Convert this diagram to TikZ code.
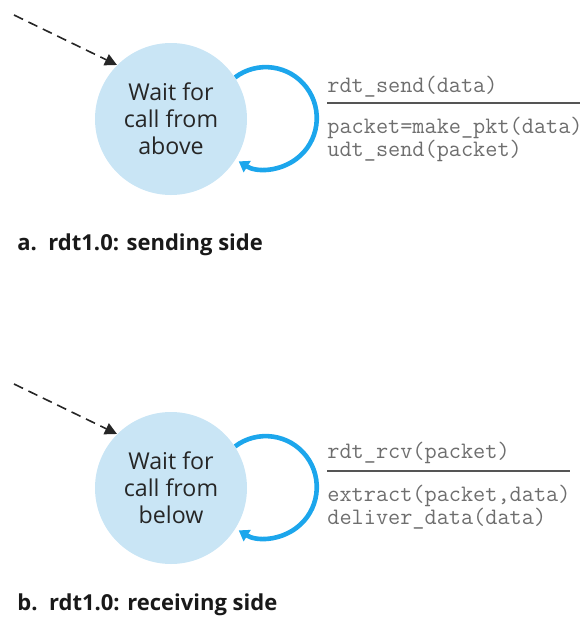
\documentclass[tikz,border=0pt]{standalone}
\usepackage{fontspec}
\usetikzlibrary{arrows.meta}
\newfontfamily\sansf{Open Sans}
\setmonofont{Latin Modern Mono}
\definecolor{statefill}{HTML}{C9E5F5}
\definecolor{loopblue}{HTML}{1CA6EC}
\definecolor{codegray}{HTML}{6E6E6E}
\definecolor{rulegray}{HTML}{555555}
\tikzset{
  state/.style={circle, fill=statefill, minimum size=76pt, inner sep=0pt, align=center,
    font=\sansf\fontsize{11.6}{13.5}\selectfont, text=black!85},
  initarrow/.style={draw=black!85, line width=0.8pt, dash pattern=on 5pt off 3pt,
    -{Triangle[length=6pt,width=6pt]}},
  selfloop/.style={draw=loopblue, line width=2.3pt, -{Triangle[length=5pt,width=6.5pt]}},
  code/.style={anchor=west, inner sep=0pt, text=codegray, font=\ttfamily\fontsize{11.8}{13}\selectfont},
  rulebar/.style={draw=rulegray, line width=1pt},
  caption/.style={anchor=west, inner sep=0pt, font=\sansf\bfseries\fontsize{11}{13}\selectfont, text=black!90}
}
\begin{document}
\begin{tikzpicture}[x=0.5pt,y=-0.5pt]
\useasboundingbox (0,0) rectangle (581,628);
% sending side
\node[state] (s1) at (171,119) {Wait for\\call from\\above};
\coordinate (i1) at (14,15);
\draw[initarrow] (i1) -- (s1.135);
\draw[selfloop] (s1.33) arc[start angle=127, end angle=-122, radius=25.5pt];
\node[code] (e1) at (327,87) {rdt\_send(data)};
\coordinate (r1a) at (327,103);
\coordinate (r1b) at (580,103);
\draw[rulebar] (r1a) -- (r1b);
\node[code] (a1) at (327,128) {packet=make\_pkt(data)};
\node[code] (a1b) at (327,151) {udt\_send(packet)};
\node[caption] (c1) at (17,245) {a.\ \ rdt1.0: sending side};
% receiving side
\node[state] (s2) at (171,488) {Wait for\\call from\\below};
\coordinate (i2) at (14,384);
\draw[initarrow] (i2) -- (s2.135);
\draw[selfloop] (s2.33) arc[start angle=127, end angle=-122, radius=25.5pt];
\node[code] (e2) at (327,453) {rdt\_rcv(packet)};
\coordinate (r2a) at (327,471);
\coordinate (r2b) at (570,471);
\draw[rulebar] (r2a) -- (r2b);
\node[code] (a2) at (327,496) {extract(packet,data)};
\node[code] (a2b) at (327,519) {deliver\_data(data)};
\node[caption] (c2) at (17,605) {b.\ \ rdt1.0: receiving side};
\end{tikzpicture}
\end{document}
